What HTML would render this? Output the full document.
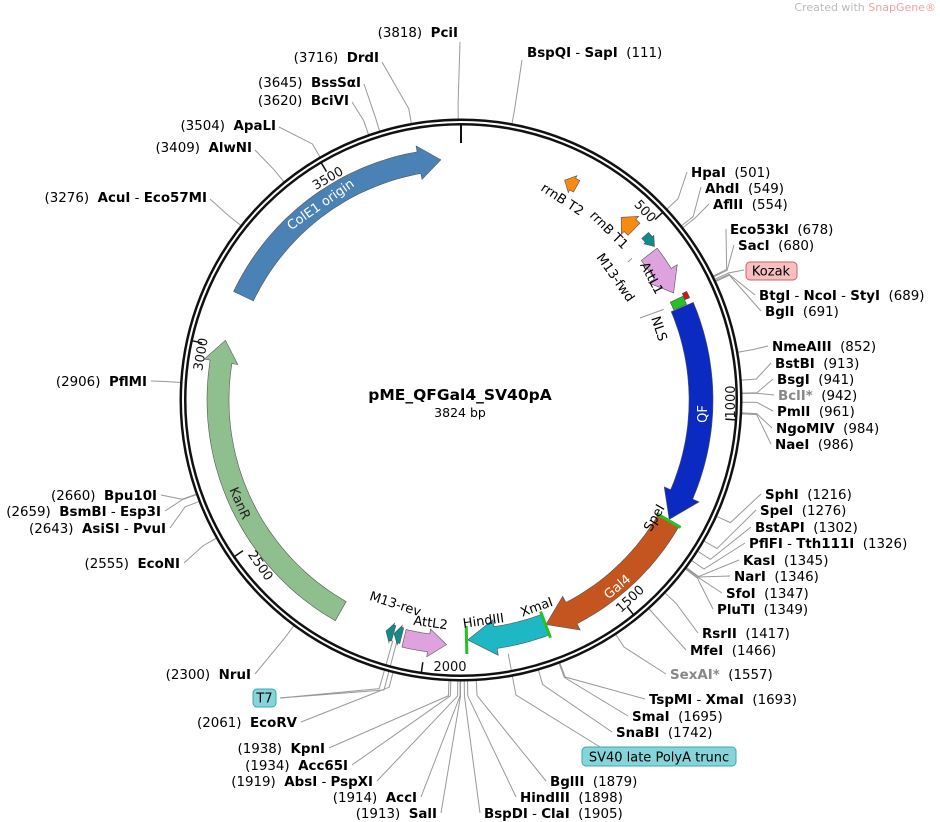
<!DOCTYPE html>
<html><head><meta charset="utf-8"><style>
html,body{margin:0;padding:0;background:#fff}
svg{display:block;font-family:"DejaVu Sans","Liberation Sans",sans-serif;font-size:13.4px}
.b{font-weight:bold}
.g{fill:#888}
</style></head><body>
<svg id="s" width="940" height="822" viewBox="0 0 940 822" xmlns="http://www.w3.org/2000/svg">
<text x="936" y="11" text-anchor="end" font-size="11" fill="#bbb">Created with <tspan fill="#f4a0a0">SnapGene®</tspan></text>
<g id="lines" stroke="#999" stroke-width="1" fill="none"></g>
<circle cx="461" cy="400" r="278" fill="none" stroke="#111" stroke-width="7"/>
<circle cx="461" cy="400" r="278" fill="none" stroke="#fff" stroke-width="2"/>
<line x1="461" y1="125" x2="461" y2="143" stroke="#111" stroke-width="2"/>
<g id="feat"></g>
<g id="ticks" stroke="#111" stroke-width="1.5"></g>
<g font-size="13" fill="#111">
<text transform="translate(642,214) rotate(47)" text-anchor="middle">500</text>
<text transform="translate(735,402) rotate(-90)" text-anchor="middle">1000</text>
<text transform="translate(633,602) rotate(-43)" text-anchor="middle">1500</text>
<text x="450" y="671" text-anchor="middle">2000</text>
<text transform="translate(257,568) rotate(55)" text-anchor="middle">2500</text>
<text transform="translate(205,355) rotate(-80)" text-anchor="middle">3000</text>
<text transform="translate(330,182) rotate(-30)" text-anchor="middle">3500</text>
</g>
<text x="460" y="400" text-anchor="middle" font-size="15.5" class="b">pME_QFGal4_SV40pA</text>
<text x="460" y="417" text-anchor="middle" font-size="12.5">3824 bp</text>
<g id="flab" font-size="13">
<text transform="translate(323,208) rotate(-35)" text-anchor="middle" fill="#fff">ColE1 origin</text>
<text transform="translate(236,505) rotate(66)" text-anchor="middle" fill="#222">KanR</text>
<text transform="translate(707,414) rotate(-90)" text-anchor="middle" fill="#fff">QF</text>
<text transform="translate(620,590) rotate(-40)" text-anchor="middle" fill="#fff">Gal4</text>
<text transform="translate(560,203) rotate(33)" text-anchor="middle">rrnB T2</text>
<text transform="translate(606,233) rotate(45)" text-anchor="middle">rrnB T1</text>
<text transform="translate(612,280) rotate(55)" text-anchor="middle">M13-fwd</text>
<text transform="translate(648,280) rotate(62)" text-anchor="middle">AttL1</text>
<text transform="translate(655,330) rotate(72)" text-anchor="middle">NLS</text>
<text transform="translate(658,520) rotate(-60)" text-anchor="middle">SpeI</text>
<text transform="translate(538,611) rotate(-20)" text-anchor="middle">XmaI</text>
<text transform="translate(484,625) rotate(-8)" text-anchor="middle">HindIII</text>
<text transform="translate(430,627) rotate(8)" text-anchor="middle">AttL2</text>
<text transform="translate(394,608) rotate(18)" text-anchor="middle">M13-rev</text>
</g>
<rect x="746" y="262" width="51" height="18" rx="4" fill="#f7c0c0" stroke="#d06060"/>
<text x="771" y="275.5" text-anchor="middle" font-size="13">Kozak</text>
<rect x="582" y="747" width="154" height="19" rx="4" fill="#84d4da" stroke="#3aa8b0"/>
<text x="659" y="761.5" text-anchor="middle" font-size="13">SV40 late PolyA trunc</text>
<rect x="253" y="689" width="23" height="18" rx="4" fill="#84d4da" stroke="#3aa8b0"/>
<text x="264.5" y="702.5" text-anchor="middle" font-size="13">T7</text>
<g text-anchor="end">
<text x="458" y="37">(3818)&#160;&#160;<tspan class="b">PciI</tspan></text>
<text x="379" y="62">(3716)&#160;&#160;<tspan class="b">DrdI</tspan></text>
<text x="361" y="87">(3645)&#160;&#160;<tspan class="b">BssSαI</tspan></text>
<text x="349" y="105">(3620)&#160;&#160;<tspan class="b">BciVI</tspan></text>
<text x="276" y="130">(3504)&#160;&#160;<tspan class="b">ApaLI</tspan></text>
<text x="252" y="152">(3409)&#160;&#160;<tspan class="b">AlwNI</tspan></text>
<text x="207" y="202">(3276)&#160;&#160;<tspan class="b">AcuI</tspan> - <tspan class="b">Eco57MI</tspan></text>
<text x="147" y="386">(2906)&#160;&#160;<tspan class="b">PflMI</tspan></text>
<text x="157" y="500">(2660)&#160;&#160;<tspan class="b">Bpu10I</tspan></text>
<text x="161" y="516">(2659)&#160;&#160;<tspan class="b">BsmBI</tspan> - <tspan class="b">Esp3I</tspan></text>
<text x="166" y="533">(2643)&#160;&#160;<tspan class="b">AsiSI</tspan> - <tspan class="b">PvuI</tspan></text>
<text x="180" y="568">(2555)&#160;&#160;<tspan class="b">EcoNI</tspan></text>
<text x="251" y="679">(2300)&#160;&#160;<tspan class="b">NruI</tspan></text>
<text x="297" y="727">(2061)&#160;&#160;<tspan class="b">EcoRV</tspan></text>
<text x="325" y="753">(1938)&#160;&#160;<tspan class="b">KpnI</tspan></text>
<text x="348" y="770">(1934)&#160;&#160;<tspan class="b">Acc65I</tspan></text>
<text x="373" y="786">(1919)&#160;&#160;<tspan class="b">AbsI</tspan> - <tspan class="b">PspXI</tspan></text>
<text x="417" y="802">(1914)&#160;&#160;<tspan class="b">AccI</tspan></text>
<text x="437" y="818">(1913)&#160;&#160;<tspan class="b">SalI</tspan></text>
</g>
<g>
<text x="527" y="57"><tspan class="b">BspQI</tspan> - <tspan class="b">SapI</tspan>&#160;&#160;(111)</text>
<text x="691" y="177"><tspan class="b">HpaI</tspan>&#160;&#160;(501)</text>
<text x="705" y="193"><tspan class="b">AhdI</tspan>&#160;&#160;(549)</text>
<text x="713" y="209"><tspan class="b">AflII</tspan>&#160;&#160;(554)</text>
<text x="730" y="234"><tspan class="b">Eco53kI</tspan>&#160;&#160;(678)</text>
<text x="738" y="250"><tspan class="b">SacI</tspan>&#160;&#160;(680)</text>
<text x="759" y="300"><tspan class="b">BtgI</tspan> - <tspan class="b">NcoI</tspan> - <tspan class="b">StyI</tspan>&#160;&#160;(689)</text>
<text x="765" y="316"><tspan class="b">BglI</tspan>&#160;&#160;(691)</text>
<text x="772" y="351"><tspan class="b">NmeAIII</tspan>&#160;&#160;(852)</text>
<text x="775" y="368"><tspan class="b">BstBI</tspan>&#160;&#160;(913)</text>
<text x="777" y="384"><tspan class="b">BsgI</tspan>&#160;&#160;(941)</text>
<text x="778" y="400"><tspan class="b g">BclI*</tspan>&#160;&#160;(942)</text>
<text x="777" y="416"><tspan class="b">PmlI</tspan>&#160;&#160;(961)</text>
<text x="776" y="433"><tspan class="b">NgoMIV</tspan>&#160;&#160;(984)</text>
<text x="775" y="449"><tspan class="b">NaeI</tspan>&#160;&#160;(986)</text>
<text x="765" y="499"><tspan class="b">SphI</tspan>&#160;&#160;(1216)</text>
<text x="760" y="515"><tspan class="b">SpeI</tspan>&#160;&#160;(1276)</text>
<text x="755" y="532"><tspan class="b">BstAPI</tspan>&#160;&#160;(1302)</text>
<text x="749" y="548"><tspan class="b">PflFI</tspan> - <tspan class="b">Tth111I</tspan>&#160;&#160;(1326)</text>
<text x="743" y="565"><tspan class="b">KasI</tspan>&#160;&#160;(1345)</text>
<text x="734" y="581"><tspan class="b">NarI</tspan>&#160;&#160;(1346)</text>
<text x="726" y="598"><tspan class="b">SfoI</tspan>&#160;&#160;(1347)</text>
<text x="717" y="614"><tspan class="b">PluTI</tspan>&#160;&#160;(1349)</text>
<text x="702" y="638"><tspan class="b">RsrII</tspan>&#160;&#160;(1417)</text>
<text x="690" y="655"><tspan class="b">MfeI</tspan>&#160;&#160;(1466)</text>
<text x="670" y="679"><tspan class="b g">SexAI*</tspan>&#160;&#160;(1557)</text>
<text x="649" y="704"><tspan class="b">TspMI</tspan> - <tspan class="b">XmaI</tspan>&#160;&#160;(1693)</text>
<text x="632" y="721"><tspan class="b">SmaI</tspan>&#160;&#160;(1695)</text>
<text x="616" y="737"><tspan class="b">SnaBI</tspan>&#160;&#160;(1742)</text>
<text x="550" y="786"><tspan class="b">BglII</tspan>&#160;&#160;(1879)</text>
<text x="520" y="802"><tspan class="b">HindIII</tspan>&#160;&#160;(1898)</text>
<text x="484" y="818"><tspan class="b">BspDI</tspan> - <tspan class="b">ClaI</tspan>&#160;&#160;(1905)</text>
</g>
</svg>
<script>
var CX=461,CY=400,N=3824,NS="http://www.w3.org/2000/svg";
function ang(p){return p/N*2*Math.PI;}
function pt(r,a){return [CX+r*Math.sin(a),CY-r*Math.cos(a)];}
function el(t,at,par){var e=document.createElementNS(NS,t);for(var k in at)e.setAttribute(k,at[k]);document.getElementById(par).appendChild(e);return e;}
var L=[[3818,460,42],[111,522,60],[3716,382,62],[3645,364,84],[3620,352,102],[3504,279,127],[3409,255,150],[3276,210,199],
[501,687,172],[549,701,187],[554,709,204],[678,726,229],[680,734,245],[686,744,270],[689,755,295],[691,761,311],
[852,768,346],[913,771,363],[941,773,379],[942,774,395],[961,773,411],[984,772,428],[986,771,444],
[1216,761,494],[1276,756,510],[1302,751,527],[1326,745,543],[1345,739,560],[1346,730,576],[1347,722,593],[1349,713,609],
[1417,698,633],[1466,686,650],[1557,666,674],[1693,645,699],[1695,628,716],[1742,612,732],
[1879,546,781],[1898,516,797],[1905,480,813],[1913,441,813],[1914,421,797],[1919,377,781],[1934,352,765],[1938,329,748],
[2061,301,722],[2300,255,674],[2555,184,563],[2643,170,528],[2659,165,511],[2660,161,495],[2906,151,381]];
L.forEach(function(d){var a=ang(d[0]);var p1=pt(281,a),p2=pt(296,a);
el("polyline",{points:p1.join(",")+" "+p2.join(",")+" "+d[1]+","+d[2]},"lines");});
[[[1800,258],[600,747]],[[2080,250],[280,698]],[[2070,250],[280,698]]].forEach(function(d){
var p=pt(d[0][1],ang(d[0][0]));var q=pt(300,ang(d[0][0]));
el("polyline",{points:p.join(",")+" "+q.join(",")+" "+d[1].join(","),stroke:"#999",fill:"none"},"lines");});
[[535,222,[628,262]],[700,222,[640,318]]].forEach(function(d){var p=pt(d[1],ang(d[0]));
el("line",{x1:p[0],y1:p[1],x2:d[2][0],y2:d[2][1],stroke:"#999"},"feat");});
[500,1000,1500,2000,2500,3000,3500].forEach(function(p){var a=ang(p),q1=pt(275,a),q2=pt(265,a);
el("line",{x1:q1[0],y1:q1[1],x2:q2[0],y2:q2[1]},"ticks");});
function arrow(s,e,r,w,hl,fl,col){
 var as=ang(s),ae=ang(e),dir=ae>as?1:-1,h=hl/r*dir,P=[],n=40,i;
 var ab=ae-h;
 for(i=0;i<=n;i++)P.push(pt(r+w/2,as+(ab-as)*i/n));
 P.push(pt(r+w/2+fl,ab));P.push(pt(r,ae));P.push(pt(r-w/2-fl,ab));
 for(i=n;i>=0;i--)P.push(pt(r-w/2,as+(ab-as)*i/n));
 el("polygon",{points:P.map(function(p){return p[0].toFixed(1)+","+p[1].toFixed(1)}).join(" "),fill:col,stroke:"#555","stroke-width":"0.6"},"feat");
}
function band(s,e,r,w,col){arrow(s,e,r,w,0.01,0,col);}
arrow(3139,3773,241,22,22,6,"#4a82b5");
arrow(2227,3019,243,22,22,6,"#8fbf8f");
arrow(714,1273,240,24,28,7,"#0a2ac2");
arrow(1276,1692,240,24,28,7,"#c5551f");
arrow(1693,1895,240,22,28,7,"#1db8c4");
arrow(555,672,238,20,22,7,"#dea2de");
arrow(2055,1948,245,18,18,5,"#dea2de");
arrow(512,548,247,9,9,2,"#128a8a");
arrow(2062,2082,243,16,6,2,"#128a8a");
arrow(2083,2103,243,16,6,2,"#128a8a");
arrow(302,268,243,13,9,3,"#f88a12");
arrow(482,438,243,17,12,4,"#f88a12");
band(690,712,238,14,"#22c322");
band(683,700,248,5,"#d01515");
[1276,1693,1898].forEach(function(p){var a=ang(p),q1=pt(226,a),q2=pt(254,a);
el("line",{x1:q1[0],y1:q1[1],x2:q2[0],y2:q2[1],stroke:"#22c322","stroke-width":"3"},"feat");});
</script>
</body></html>
